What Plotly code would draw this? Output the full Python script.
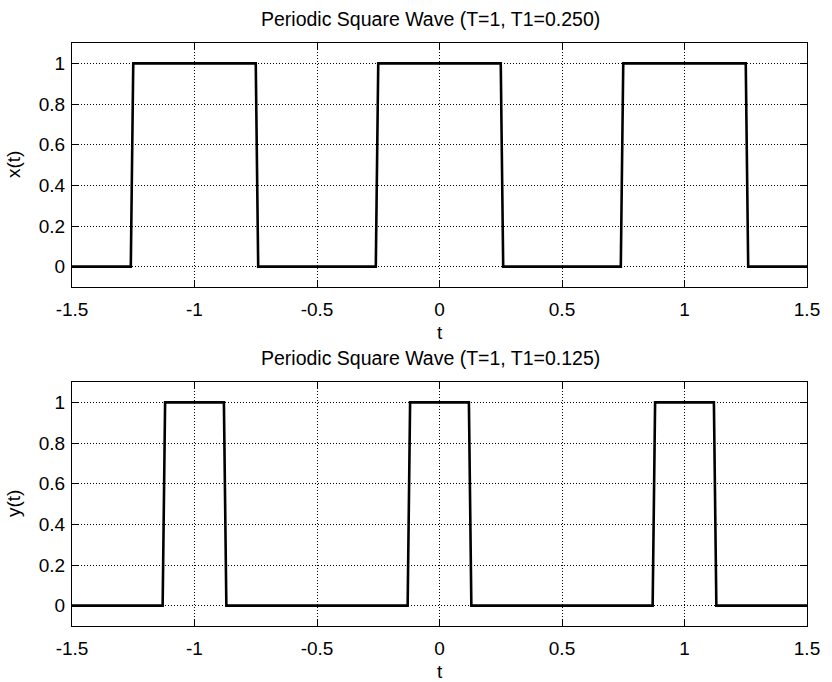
import plotly.graph_objects as go
from plotly.subplots import make_subplots

# Data: vertices of the sampled square waves (step 0.01)
t_top = [-1.5, -1.26, -1.25, -0.75, -0.74, -0.26, -0.25, 0.25, 0.26, 0.74, 0.75, 1.25, 1.26, 1.5]
x_top = [0, 0, 1, 1, 0, 0, 1, 1, 0, 0, 1, 1, 0, 0]
t_bot = [-1.5, -1.13, -1.12, -0.88, -0.87, -0.13, -0.12, 0.12, 0.13, 0.87, 0.88, 1.12, 1.13, 1.5]
y_bot = [0, 0, 1, 1, 0, 0, 1, 1, 0, 0, 1, 1, 0, 0]
title_top = "Periodic Square Wave (T=1, T1=0.250)"
title_bot = "Periodic Square Wave (T=1, T1=0.125)"
x_ticks = [-1.5, -1, -0.5, 0, 0.5, 1, 1.5]
x_ticklabels = ["-1.5", "-1", "-0.5", "0", "0.5", "1", "1.5"]
y_ticks = [0, 0.2, 0.4, 0.6, 0.8, 1]
y_ticklabels = ["0", "0.2", "0.4", "0.6", "0.8", "1"]

FONT = "Liberation Sans, Arial, sans-serif"
FS = 19

fig = make_subplots(rows=2, cols=1)
fig.add_trace(go.Scatter(x=t_top, y=x_top, mode="lines",
                         line=dict(color="#000000", width=2.6), showlegend=False), row=1, col=1)
fig.add_trace(go.Scatter(x=t_bot, y=y_bot, mode="lines",
                         line=dict(color="#000000", width=2.6), showlegend=False), row=2, col=1)

H = 682
ml, mr, mt, mb = 72, 18, 43, 56
ph = H - mt - mb
top_lo = (626 - 287) / ph
bot_hi = (626 - 382) / ph

axis_common = dict(
    showline=True, linecolor="black", linewidth=1, mirror="allticks",
    ticks="inside", ticklen=7, tickcolor="black", tickwidth=1,
    showgrid=True, gridcolor="black", griddash="1px,2px", gridwidth=1,
    zeroline=False, tickfont=dict(family=FONT, size=FS, color="black"),
)

fig.update_layout(
    width=832, height=H,
    margin=dict(l=ml, r=mr, t=mt, b=mb),
    plot_bgcolor="white", paper_bgcolor="white",
    font=dict(family=FONT, size=FS, color="black"),
    xaxis=dict(domain=[0, 1], range=[-1.5, 1.5], tickvals=x_ticks, ticktext=x_ticklabels,
               ticklabelstandoff=5, **axis_common),
    yaxis=dict(domain=[top_lo, 1], range=[-0.1, 1.1], tickvals=y_ticks, ticktext=y_ticklabels,
               ticklabelstandoff=2, **axis_common),
    xaxis2=dict(domain=[0, 1], range=[-1.5, 1.5], tickvals=x_ticks, ticktext=x_ticklabels,
                ticklabelstandoff=5, **axis_common),
    yaxis2=dict(domain=[0, bot_hi], range=[-0.1, 1.1], tickvals=y_ticks, ticktext=y_ticklabels,
                ticklabelstandoff=2, **axis_common),
)

def txt(text, x, y, xshift=0, yshift=0, angle=0, size=FS):
    fig.add_annotation(text=text, xref="paper", yref="paper", x=x, y=y,
                       xanchor="center", yanchor="middle", xshift=xshift, yshift=yshift,
                       textangle=angle, showarrow=False, borderpad=0,
                       font=dict(family=FONT, size=size, color="black"))

# titles
txt(title_top, 0.5, 1, xshift=-9, yshift=24.5, size=19.5)
txt(title_bot, 0.5, bot_hi, xshift=-9, yshift=24.5, size=19.5)
# x-axis labels
txt("t", 0.5, top_lo, yshift=-45)
txt("t", 0.5, 0, yshift=-45)
# y-axis labels
txt("x(t)", 0, (top_lo + 1) / 2, xshift=-59, angle=-90)
txt("y(t)", 0, bot_hi / 2, xshift=-59, angle=-90)

fig.write_html("out.html", config={"displayModeBar": False},
               post_script="document.body.style.margin='0';document.body.style.overflow='hidden';")
